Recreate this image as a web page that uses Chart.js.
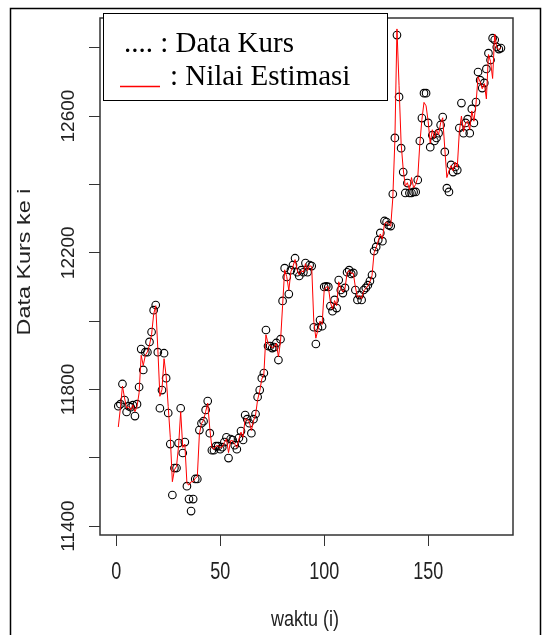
<!DOCTYPE html>
<html>
<head>
<meta charset="utf-8">
<style>
  html, body { margin: 0; padding: 0; background: #fff; }
  canvas { display: block; }
</style>
<script src="https://cdn.jsdelivr.net/npm/chart.js@4.4.1/dist/chart.umd.min.js"></script>
</head>
<body>
<canvas id="kursChart" width="546" height="635"></canvas>
<script>
const waktuTicks = [0, 50, 100, 150];
const kursTicks = [11400, 11600, 11800, 12000, 12200, 12400, 12600, 12800];
const kursLabels = [11400, 11800, 12200, 12600];

// observed exchange rate, i = 1..185
const dataKurs = [
  11751, 11757, 11816, 11769, 11734, 11751, 11748, 11754, 11722, 11757,
  11807, 11918, 11857, 11909, 11909, 11939, 11968, 12032, 12047, 11909,
  11745, 11798, 11906, 11833, 11731, 11640, 11491, 11570, 11570, 11643,
  11745, 11614, 11646, 11517, 11479, 11444, 11479, 11538, 11538, 11681,
  11701, 11707, 11740, 11766, 11672, 11622, 11622, 11634, 11634, 11625,
  11631, 11646, 11660, 11599, 11655, 11652, 11637, 11625, 11658, 11678,
  11652, 11725, 11713, 11701, 11672, 11713, 11728, 11778, 11798, 11833,
  11848, 11974, 11927, 11927, 11921, 11924, 11936, 11886, 11947, 12059,
  12155, 12129, 12079, 12149, 12164, 12184, 12143, 12132, 12149, 12143,
  12170, 12143, 12164, 12161, 11982, 11933, 11980, 12003, 11985, 12100,
  12102, 12100, 12044, 12029, 12062, 12038, 12120, 12091, 12082, 12097,
  12143, 12149, 12138, 12141, 12091, 12062, 12076, 12062, 12091, 12097,
  12105, 12117, 12135, 12205, 12217, 12237, 12258, 12234, 12293, 12290,
  12281, 12278, 12372, 12536, 12837, 12656, 12506, 12436, 12375, 12404,
  12375, 12375, 12378, 12378, 12413, 12527, 12594, 12667, 12667, 12580,
  12509, 12544, 12527, 12536, 12550, 12574, 12597, 12495, 12389, 12378,
  12457, 12436, 12451, 12442, 12565, 12638, 12550, 12580, 12591, 12550,
  12621, 12580, 12641, 12729, 12705, 12682, 12697, 12738, 12784, 12764,
  12828, 12823, 12802, 12796, 12799
];

// estimated values (red line)
const nilaiEstimasi = [
  11690, 11745, 11810, 11775, 11745, 11750, 11740, 11755, 11735, 11750,
  11790, 11900, 11870, 11900, 11910, 11930, 11960, 12020, 12045, 11920,
  11780, 11800, 11890, 11840, 11750, 11660, 11530, 11565, 11575, 11635,
  11735, 11630, 11640, 11525, 11520, 11530, 11530, 11540, 11545, 11670,
  11700, 11710, 11735, 11760, 11685, 11630, 11625, 11635, 11635, 11630,
  11632, 11645, 11655, 11615, 11650, 11650, 11640, 11630, 11655, 11675,
  11660, 11715, 11712, 11705, 11680, 11708, 11725, 11770, 11795, 11830,
  11845, 11960, 11935, 11928, 11922, 11925, 11935, 11895, 11940, 12045,
  12150, 12130, 12090, 12145, 12160, 12180, 12150, 12135, 12148, 12143,
  12168, 12148, 12162, 12160, 12000, 11950, 11975, 12000, 11990, 12090,
  12100, 12100, 12055, 12035, 12060, 12045, 12115, 12095, 12085, 12095,
  12140, 12148, 12140, 12140, 12100, 12070, 12075, 12065, 12088, 12095,
  12103, 12115, 12133, 12200, 12215, 12235, 12255, 12240, 12285, 12290,
  12282, 12278, 12360, 12530, 12855, 12690, 12520, 12445, 12395, 12405,
  12385, 12420, 12390, 12400, 12420, 12520, 12590, 12640, 12630, 12585,
  12520, 12560, 12535, 12560, 12545, 12580, 12595, 12505, 12420, 12440,
  12455, 12440, 12465, 12450, 12555, 12600, 12555, 12580, 12585, 12560,
  12615, 12585, 12635, 12715, 12700, 12680, 12695, 12650, 12780, 12760,
  12710, 12840, 12800, 12795, 12800
];

const sans = "'Liberation Sans', Arial, sans-serif";
const serif = "'Liberation Serif', 'Times New Roman', serif";

// R-style frame, axis labels and legend, drawn on the canvas
const rStyle = {
  id: "rStyle",
  beforeDraw(chart) {
    const c = chart.ctx;
    c.save();
    c.fillStyle = "#fff";
    c.fillRect(0, 0, chart.width, chart.height);
    c.restore();
  },
  afterDraw(chart) {
    const c = chart.ctx;
    const a = chart.chartArea;
    const xs = chart.scales.x;
    const ys = chart.scales.y;
    c.save();

    // outer frame
    c.strokeStyle = "#000";
    c.lineWidth = 1.5;
    c.strokeRect(10.5, 8.5, 530, 640);

    // plot box
    c.strokeStyle = "#333";
    c.lineWidth = 1.5;
    c.strokeRect(a.left, a.top, a.right - a.left, a.bottom - a.top);

    // x tick labels
    c.fillStyle = "#222";
    c.textAlign = "center";
    c.textBaseline = "middle";
    c.font = "18px " + sans;
    waktuTicks.forEach(v => {
      c.save();
      c.translate(xs.getPixelForValue(v), 573);
      c.scale(1, 1.3);
      c.fillText(String(v), 0, 0);
      c.restore();
    });

    // x title
    c.save();
    c.translate(305, 620);
    c.scale(1, 1.2);
    c.fillText("waktu (i)", 0, 0);
    c.restore();

    // y tick labels, rotated like R
    c.font = "19px " + sans;
    kursLabels.forEach(v => {
      c.save();
      c.translate(69, ys.getPixelForValue(v));
      c.rotate(-Math.PI / 2);
      c.fillText(String(v), 0, 0);
      c.restore();
    });

    // y title
    c.save();
    c.translate(25, 262);
    c.rotate(-Math.PI / 2);
    c.scale(1.3, 1);
    c.font = "18px " + sans;
    c.fillText("Data Kurs ke i", 0, 0);
    c.restore();

    // legend box
    c.fillStyle = "#fff";
    c.fillRect(103, 13, 284, 87);
    c.strokeStyle = "#000";
    c.lineWidth = 1;
    c.strokeRect(103.5, 13.5, 284, 87);
    c.fillStyle = "#000";
    c.textAlign = "left";
    c.textBaseline = "alphabetic";
    c.font = "29px " + serif;
    c.fillText(".... : Data Kurs", 124, 52);
    c.fillText(": Nilai Estimasi", 170, 85);
    c.strokeStyle = "#ff0000";
    c.lineWidth = 1.5;
    c.beginPath();
    c.moveTo(120, 86.5);
    c.lineTo(160, 86.5);
    c.stroke();

    c.restore();
  }
};

const ctx = document.getElementById("kursChart").getContext("2d");

new Chart(ctx, {
  type: "scatter",
  data: {
    datasets: [
      {
        label: "Nilai Estimasi",
        data: nilaiEstimasi.map((v, i) => ({ x: i + 1, y: v })),
        showLine: true,
        borderColor: "#ff0000",
        borderWidth: 1,
        pointRadius: 0,
        tension: 0,
        order: 0
      },
      {
        label: "Data Kurs",
        data: dataKurs.map((v, i) => ({ x: i + 1, y: v })),
        showLine: false,
        pointStyle: "circle",
        pointRadius: 3.8,
        pointBorderWidth: 1.1,
        pointBorderColor: "#000",
        pointBackgroundColor: "rgba(0,0,0,0)",
        order: 1
      }
    ]
  },
  plugins: [rStyle],
  options: {
    responsive: false,
    animation: false,
    devicePixelRatio: 1,
    layout: { padding: { left: 89, right: 33, top: 18, bottom: 89 } },
    plugins: {
      legend: { display: false },
      tooltip: { enabled: false }
    },
    scales: {
      x: {
        type: "linear",
        min: -7.8,
        max: 190.8,
        afterBuildTicks: s => { s.ticks = waktuTicks.map(v => ({ value: v })); },
        ticks: { display: false },
        grid: { drawOnChartArea: false, drawTicks: true, tickLength: 11, color: "#333" },
        border: { display: false },
        title: { display: false }
      },
      y: {
        type: "linear",
        min: 11374,
        max: 12887,
        afterBuildTicks: s => { s.ticks = kursTicks.map(v => ({ value: v })); },
        ticks: { display: false },
        grid: { drawOnChartArea: false, drawTicks: true, tickLength: 11, color: "#333" },
        border: { display: false },
        title: { display: false }
      }
    }
  }
});
</script>
</body>
</html>
